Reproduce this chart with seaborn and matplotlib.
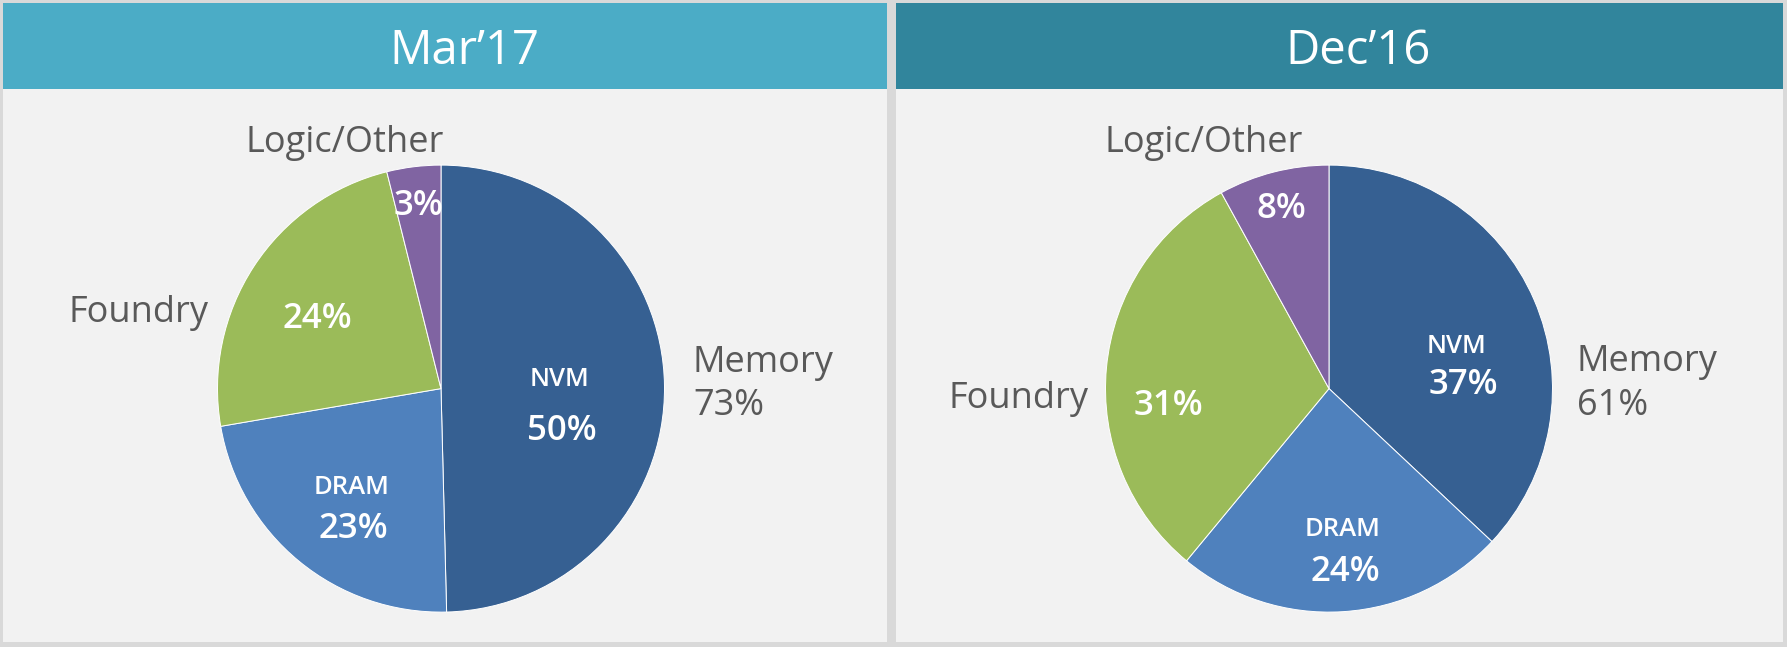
import matplotlib
matplotlib.use("Agg")
import matplotlib.pyplot as plt
from matplotlib.patches import Rectangle
import seaborn as sns

# data
segments = ["NVM", "DRAM", "Foundry", "Logic/Other"]
mar17_values = [49.6, 22.7, 23.8, 3.9]
dec16_values = [37, 24, 31, 8]
mar17_labels = ["50%", "23%", "24%", "3%"]
dec16_labels = ["37%", "24%", "31%", "8%"]
memory_totals = ["73%", "61%"]
titles = ["Mar\u201917", "Dec\u201916"]

seg_colors = ["#366092", "#4F81BD", "#9BBB59", "#8064A2"]
header_colors = ["#4BACC6", "#31859C"]
text_gray = "#595959"

sns.set_theme(style="white")
plt.rcParams["font.family"] = ["Open Sans", "DejaVu Sans"]

W, H = 1787, 647
fig = plt.figure(figsize=(W / 100, H / 100), dpi=100)
fig.patch.set_facecolor("#D9D9D9")

# background axes in pixel coordinates
bg = fig.add_axes([0, 0, 1, 1])
bg.set_xlim(0, W)
bg.set_ylim(H, 0)
bg.axis("off")
panels = [(3, 887), (896, 1783)]
for (x0, x1), hc in zip(panels, header_colors):
    bg.add_patch(Rectangle((x0, 3), x1 - x0, 639, color="#F2F2F2", lw=0))
    bg.add_patch(Rectangle((x0, 3), x1 - x0, 86, color=hc, lw=0))

# pies
R = 223.5
centers = [(441, 388.6), (1329, 388.6)]
for (cx, cy), vals in zip(centers, [mar17_values, dec16_values]):
    ax = fig.add_axes([(cx - R) / W, 1 - (cy + R) / H, 2 * R / W, 2 * R / H])
    ax.pie(vals, colors=seg_colors, startangle=90, counterclock=False, radius=1,
           wedgeprops=dict(edgecolor="white", linewidth=0.7))
    ax.set_xlim(-1, 1)
    ax.set_ylim(-1, 1)
    ax.axis("off")

# overlay for text, pixel coordinates
ov = fig.add_axes([0, 0, 1, 1])
ov.set_xlim(0, W)
ov.set_ylim(H, 0)
ov.axis("off")
ov.patch.set_alpha(0)


def txt(x, y, s, size, color=text_gray, ha="center", weight="normal"):
    ov.text(x, y, s, fontsize=size, color=color, ha=ha, va="baseline", weight=weight)


# headers
txt(464, 64, titles[0], 34, color="white")
txt(1358, 64, titles[1], 34, color="white")

# outer labels
outer = 26
txt(345, 152, segments[3], outer)
txt(138.5, 322, segments[2], outer)
txt(693, 372, "Memory", outer, ha="left")
txt(693, 415, memory_totals[0], outer, ha="left")
txt(1203.5, 152, segments[3], outer)
txt(1018, 408, segments[2], outer)
txt(1577, 371, "Memory", outer, ha="left")
txt(1577, 415, memory_totals[1], outer, ha="left")

# inner labels
pct = 25
name = 18.5
w = "semibold"
txt(418, 215, mar17_labels[3], pct, color="white", weight=w)
txt(317.5, 328, mar17_labels[2], pct, color="white", weight=w)
txt(559, 386, segments[0], name, color="white", weight=w)
txt(561.5, 440, mar17_labels[0], pct, color="white", weight=w)
txt(351.5, 494, segments[1], name, color="white", weight=w)
txt(353.5, 538, mar17_labels[1], pct, color="white", weight=w)

txt(1281.5, 218, dec16_labels[3], pct, color="white", weight=w)
txt(1168.5, 415, dec16_labels[2], pct, color="white", weight=w)
txt(1456.5, 353, segments[0], name, color="white", weight=w)
txt(1463, 394, dec16_labels[0], pct, color="white", weight=w)
txt(1342.5, 536, segments[1], name, color="white", weight=w)
txt(1345.5, 581, dec16_labels[1], pct, color="white", weight=w)

fig.savefig("out.png", dpi=100, facecolor=fig.get_facecolor())
